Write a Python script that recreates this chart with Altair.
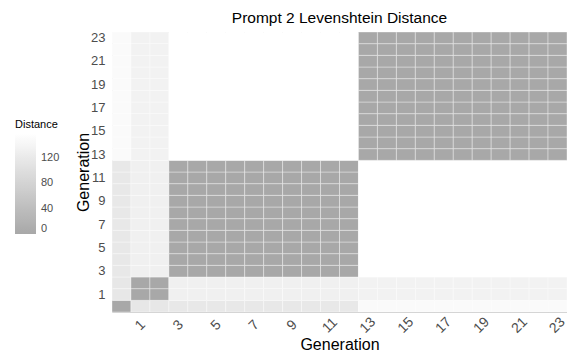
import altair as alt
import pandas as pd

# Generation index -> cluster of identical outputs
generations = list(range(24))
cluster = [0, 1, 1] + [2] * 10 + [3] * 11
# Levenshtein distance between clusters (symmetric)
cluster_distance = [
    [0, 116, 118, 150],
    [116, 0, 132, 136],
    [118, 132, 0, 158],
    [150, 136, 158, 0],
]
tick_labels = [1, 3, 5, 7, 9, 11, 13, 15, 17, 19, 21, 23]
legend_values = [0, 40, 80, 120]

rows = []
for gx in generations:
    for gy in generations:
        rows.append({"x": gx, "y": gy,
                     "Distance": cluster_distance[cluster[gx]][cluster[gy]]})
df = pd.DataFrame(rows)

font = "Liberation Sans"
W, H = 455, 280

chart = alt.Chart(df).mark_rect(
    stroke="white", strokeWidth=0.6, strokeOpacity=0.6
).encode(
    x=alt.X("x:O", title="Generation",
            scale=alt.Scale(paddingInner=0, paddingOuter=0),
            axis=alt.Axis(values=tick_labels, labelAngle=315, labelAlign="center",
                          labelBaseline="middle", labelPadding=13, ticks=False,
                          domain=False, labelFontSize=14, labelColor="#4D4D4D",
                          titleFontSize=16, titleFontWeight="normal", titleColor="black",
                          titleBaseline="alphabetic", titleY=37,
                          labelFont=font, titleFont=font)),
    y=alt.Y("y:O", title="Generation", sort="descending",
            scale=alt.Scale(paddingInner=0, paddingOuter=0),
            axis=alt.Axis(values=tick_labels, ticks=False, domain=False,
                          labelPadding=7, labelFontSize=13, labelColor="#4D4D4D",
                          titleFontSize=16, titleFontWeight="normal", titleColor="black",
                          titleX=-21, labelFont=font, titleFont=font)),
    color=alt.Color("Distance:Q",
                    scale=alt.Scale(domain=[0, 158], range=["#A8A8A8", "#FFFFFF"],
                                    interpolate="lab"),
                    legend=alt.Legend(orient="none", legendX=-97, legendY=87,
                                      values=legend_values, gradientLength=100,
                                      gradientThickness=21, gradientStrokeWidth=0,
                                      labelFontSize=11, labelColor="#4D4D4D",
                                      titleFontSize=11, titleFontWeight="normal",
                                      titleColor="black", labelOverlap=False,
                                      labelFont=font, titleFont=font,
                                      titlePadding=4, labelOffset=5)),
).properties(
    width=W, height=H,
    title=alt.Title("Prompt 2 Levenshtein Distance", fontSize=15.5,
                    fontWeight="normal", font=font, color="black", offset=5),
    autosize=alt.AutoSizeParams(type="none"),
    padding={"left": 104, "top": 24, "right": 0, "bottom": 40},
).configure_view(stroke="#CCCCCC", strokeWidth=1)

chart.save("out.html", embed_options={"renderer": "svg", "actions": False})
